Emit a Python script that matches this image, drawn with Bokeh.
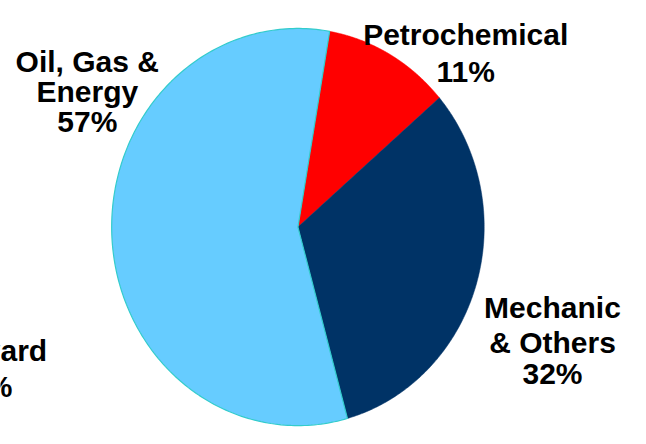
import numpy as np
from bokeh.plotting import figure
from bokeh.models import Range1d, ColumnDataSource
from bokeh.core.properties import value
from bokeh.embed import file_html
from bokeh.resources import INLINE

# ---- data ----
categories = ["Petrochemical", "Mechanic & Others", "Oil, Gas & Energy", "Shipyard"]
shares = [11, 32, 57, 0]
colors = ["#FF0000", "#003366", "#66CCFF", "#999999"]
edge_colors = [None, None, "#33CCCC", None]
label_lines = [["Petrochemical"], ["Mechanic", "& Others"], ["Oil, Gas &", "Energy"], ["Shipyard"]]

# ---- layout: data space = reference pixel space (646 x 444) ----
RW, RH = 646, 444
W, H = 630, 428
cx, cy = 305, 235          # pie centre
rx, ry = 191, 206          # slightly tall ellipse
start_deg = 9.8            # clockwise from 12 o'clock

# label anchors: per line (centre x, baseline y)
label_pos = [
    [(477, 35), (477, 74)],
    [(566, 318), (566, 355), (566, 387)],
    [(89, 63), (89, 94), (89, 126)],
    [(-18, 363), (-10, 400)],
]

p = figure(width=W, height=H, x_range=Range1d(0, RW), y_range=Range1d(RH, 0),
           output_backend="svg", toolbar_location=None, min_border=0,
           background_fill_color="white", border_fill_color="white")
p.axis.visible = False
p.grid.visible = False
p.outline_line_color = None

total = float(sum(shares))
angle = np.deg2rad(start_deg)
for share, col, ec in zip(shares, colors, edge_colors):
    if share <= 0:
        continue
    span = 2 * np.pi * share / total
    th = np.linspace(angle, angle + span, 200)
    xs = np.concatenate([[cx], cx + rx * np.sin(th), [cx]])
    ys = np.concatenate([[cy], cy - ry * np.cos(th), [cy]])
    if ec:
        p.patch(xs, ys, fill_color=col, line_color=ec, line_width=1.2)
    else:
        p.patch(xs, ys, fill_color=col, line_color=col, line_width=0.5)
    angle += span

tx, ty, tt = [], [], []
for lines, share, pos in zip(label_lines, shares, label_pos):
    all_lines = lines + [f"{share}%"]
    for t, (lx, b) in zip(all_lines, pos):
        tx.append(lx)
        ty.append(b)
        tt.append(t)

src = ColumnDataSource(dict(x=tx, y=ty, text=tt))
p.text("x", "y", text="text", source=src, text_align="center",
       text_baseline="alphabetic", text_font=value("Liberation Sans"),
       text_font_style="bold", text_font_size="30px", text_color="black")

open("out.html", "w").write(file_html(p, INLINE))
